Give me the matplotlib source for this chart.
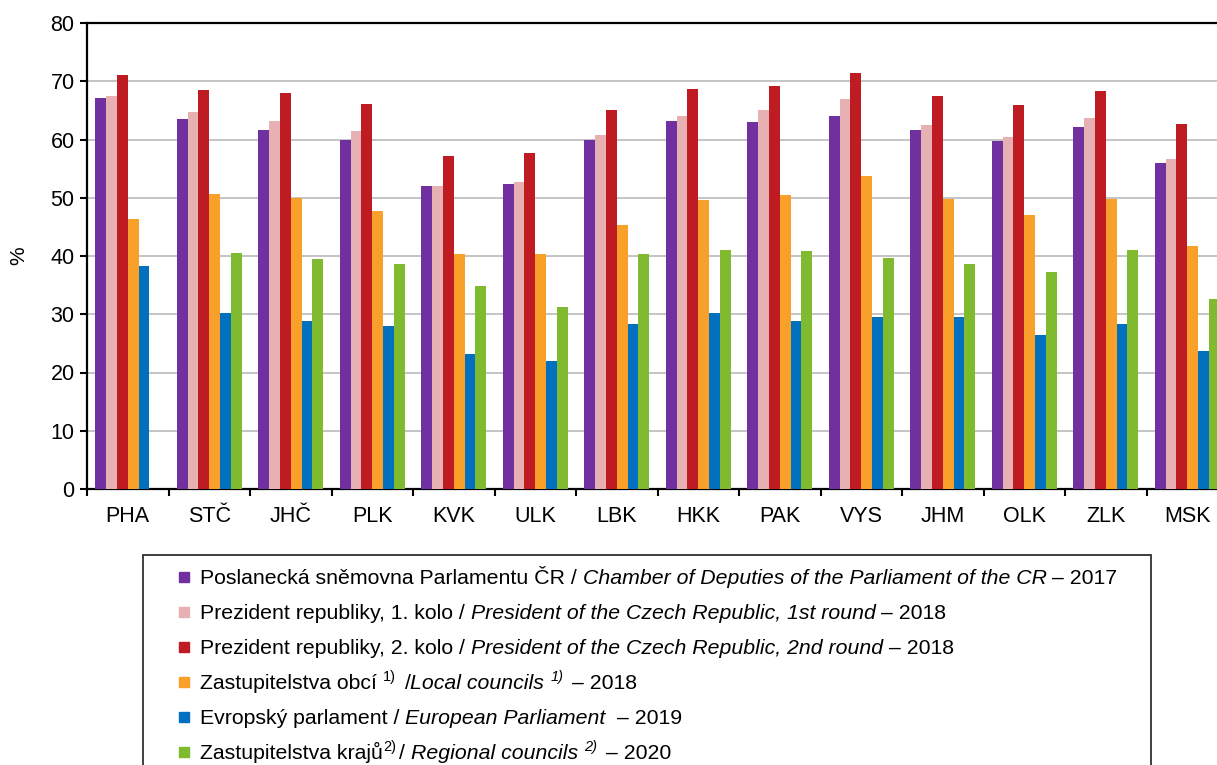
import numpy as np
import matplotlib
matplotlib.use('Agg')
import matplotlib.pyplot as plt
from matplotlib.patches import Rectangle

plt.rcParams['font.family'] = ['Liberation Sans', 'DejaVu Sans']

regions = ['PHA', 'STČ', 'JHČ', 'PLK', 'KVK', 'ULK', 'LBK',
           'HKK', 'PAK', 'VYS', 'JHM', 'OLK', 'ZLK', 'MSK']

# turnout in % by region
chamber_2017 = [67.1, 63.5, 61.7, 59.9, 52.1, 52.4, 60.0, 63.2, 63.0, 64.0, 61.7, 59.7, 62.1, 55.9]
president1_2018 = [67.5, 64.7, 63.2, 61.4, 52.1, 52.7, 60.7, 64.1, 65.0, 67.0, 62.5, 60.4, 63.7, 56.7]
president2_2018 = [71.1, 68.5, 67.9, 66.1, 57.2, 57.7, 65.0, 68.6, 69.2, 71.5, 67.5, 66.0, 68.4, 62.7]
local_2018 = [46.4, 50.6, 50.0, 47.8, 40.3, 40.3, 45.4, 49.6, 50.5, 53.7, 49.7, 47.1, 49.7, 41.7]
europe_2019 = [38.3, 30.2, 28.9, 27.9, 23.1, 22.0, 28.3, 30.3, 28.8, 29.5, 29.5, 26.4, 28.3, 23.7]
# Prague has no regional council election
regional_2020 = [np.nan, 40.6, 39.5, 38.7, 34.8, 31.2, 40.3, 41.0, 40.8, 39.6, 38.7, 37.2, 41.1, 32.6]

series = [chamber_2017, president1_2018, president2_2018, local_2018, europe_2019, regional_2020]
colors = ['#7030a0', '#e7b0b3', '#be1b22', '#f8a02a', '#0070bf', '#7fba2f']

# legend text pieces: (text, style, superscript)
legend_rows = [
    [('Poslanecká sněmovna Parlamentu ČR / ', 'normal', False),
     ('Chamber of Deputies of the Parliament of the CR', 'italic', False),
     (' – 2017', 'normal', False)],
    [('Prezident republiky, 1. kolo / ', 'normal', False),
     ('President of the Czech Republic, 1st round', 'italic', False),
     (' – 2018', 'normal', False)],
    [('Prezident republiky, 2. kolo / ', 'normal', False),
     ('President of the Czech Republic, 2nd round', 'italic', False),
     (' – 2018', 'normal', False)],
    [('Zastupitelstva obcí ', 'normal', False), ('1)', 'normal', True),
     (' /', 'normal', False), ('Local councils ', 'italic', False),
     ('1)', 'italic', True), (' – 2018', 'normal', False)],
    [('Evropský parlament / ', 'normal', False),
     ('European Parliament', 'italic', False),
     ('  – 2019', 'normal', False)],
    [('Zastupitelstva krajů', 'normal', False), ('2)', 'normal', True),
     ('/ ', 'normal', False), ('Regional councils ', 'italic', False),
     ('2)', 'italic', True), (' – 2020', 'normal', False)],
]

W, H = 1217, 765
fig = plt.figure(figsize=(W / 100, H / 100), dpi=100)
ax = fig.add_axes([87 / W, (H - 489) / H, 1141 / W, 466 / H])

x = np.arange(len(regions))
bw = 0.1325
for i, (vals, c) in enumerate(zip(series, colors)):
    ax.bar(x + (i - 2.5) * bw, vals, width=bw, color=c, zorder=3)

ax.set_xlim(-0.5, len(regions) - 0.5)
ax.set_ylim(0, 80)
ax.set_yticks(range(0, 81, 10))
ax.grid(axis='y', color='#c4c4c4', linewidth=1.4, zorder=0)

ax.set_xticks(x, regions)
ax.set_xticks(np.arange(len(regions) + 1) - 0.5, minor=True)
ax.tick_params(axis='x', which='major', length=0, pad=12, labelsize=15.5)
ax.tick_params(axis='x', which='minor', length=5, width=1.5, direction='out')
ax.tick_params(axis='y', length=5, width=1.5, pad=4, labelsize=15.5)
for s in ax.spines.values():
    s.set_linewidth(1.6)
ax.set_ylabel('%', fontsize=15, labelpad=16)

# legend box, drawn by hand because of the mixed upright/italic labels
fig.add_artist(Rectangle((143 / W, -0.05), (1151 - 143) / W, 0.05 + (H - 555) / H,
                         transform=fig.transFigure, fill=False,
                         edgecolor='#303030', linewidth=1.3))

renderer = fig.canvas.get_renderer()


def text_width(s, size, style):
    t = fig.text(0, 0, s, fontsize=size, style=style)
    w = t.get_window_extent(renderer).width
    t.remove()
    return w


def space_width(size, style):
    return text_width('x x', size, style) - text_width('xx', size, style)


for row, (parts, c) in enumerate(zip(legend_rows, colors)):
    yc = 577 + 35 * row
    fig.add_artist(Rectangle((179 / W, 1 - (yc + 5) / H), 10 / W, 10 / H,
                             transform=fig.transFigure, color=c))
    px = 200
    base = yc + 7
    for text, style, sup in parts:
        size = 10.5 if sup else 15.3
        sp = space_width(size, style)
        core = text.strip(' ')
        px += (len(text) - len(text.lstrip(' '))) * sp
        yy = base - 8 if sup else base
        t = fig.text(px / W, 1 - yy / H, core, fontsize=size, style=style, va='baseline')
        px += t.get_window_extent(renderer).width + (3 if sup else 0)
        px += (len(text) - len(text.rstrip(' '))) * sp

fig.savefig('out.png', dpi=100)
